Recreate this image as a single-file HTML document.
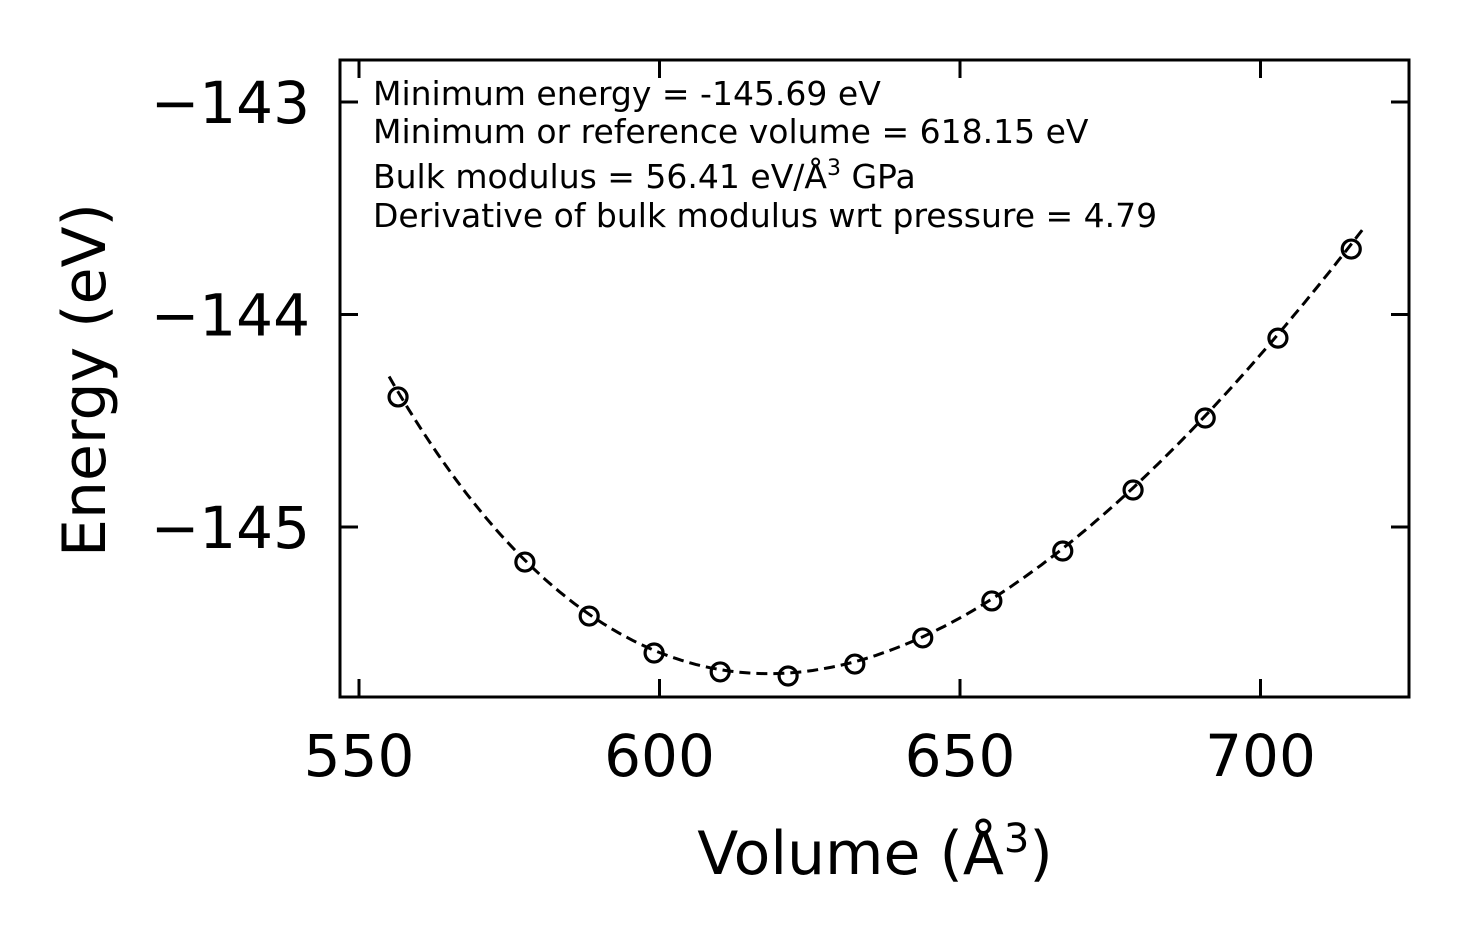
<!DOCTYPE html>
<html><head><meta charset="utf-8"><style>
html,body{margin:0;padding:0;background:#fff;}
svg{display:block;font-family:"DejaVu Sans","Liberation Sans",sans-serif;}
</style></head><body>
<svg id="chart" width="1469" height="943" viewBox="0 0 1469 943">
<g id="plot"></g>
</svg>
<script>
const volumes = [556.5, 577.6, 588.3, 599.1, 610.1, 621.4, 632.5, 643.8, 655.3, 667.1, 678.8, 690.8, 702.9, 715.1];
const energies = [-144.388, -145.165, -145.419, -145.593, -145.682, -145.701, -145.645, -145.522, -145.348, -145.113, -144.826, -144.487, -144.111, -143.692];
const xTicks = [550, 600, 650, 700];
const yTicks = [-143, -144, -145];
const fitParams = [-145.69, 618.15, 56.41, 4.79]; // E0, V0, B (GPa), B'
const fitRange = [555, 717];

const L=340,R=1409,T=60,B=697;
const xs=v=>359+(v-550)*300.5/50;
const ys=e=>102+(-143-e)*212.5;
const NS="http://www.w3.org/2000/svg";
const g=document.getElementById('plot');
function mk(tag,attrs,parent){const el=document.createElementNS(NS,tag);for(const k in attrs)el.setAttribute(k,attrs[k]);(parent||g).appendChild(el);return el;}

const [E0,V0,Bg,Bp]=fitParams;const Bv=Bg/160.2177;
let d="";
for(let i=0;i<=200;i++){const v=fitRange[0]+(fitRange[1]-fitRange[0])*i/200;const eta=Math.pow(V0/v,2/3);
const e=E0+9*V0*Bv/16*(Math.pow(eta-1,3)*Bp+Math.pow(eta-1,2)*(6-4*eta));
d+=(i?"L":"M")+xs(v).toFixed(1)+","+ys(e).toFixed(1);}
const fit=mk('path',{d:d,fill:'none',stroke:'#000','stroke-width':3,'stroke-dasharray':'11,6'});



volumes.forEach((v,i)=>{
const c=mk('circle',{cx:xs(v),cy:ys(energies[i]),r:9,fill:'none',stroke:'#000','stroke-width':3.2});


});

const frame=mk('rect',{x:L,y:T,width:R-L,height:B-T,fill:'none',stroke:'#000','stroke-width':3});



xTicks.forEach(t=>{const x=xs(t);
mk('line',{x1:x,x2:x,y1:B,y2:B-18,stroke:'#000','stroke-width':3});
mk('line',{x1:x,x2:x,y1:T,y2:T+18,stroke:'#000','stroke-width':3});
const tx=mk('text',{x:x,y:776,'font-size':58,'text-anchor':'middle'});tx.textContent=t;


});
yTicks.forEach(t=>{const y=ys(t);
mk('line',{x1:L,x2:L+18,y1:y,y2:y,stroke:'#000','stroke-width':3});
mk('line',{x1:R,x2:R-18,y1:y,y2:y,stroke:'#000','stroke-width':3});
const tx=mk('text',{x:310,y:y+21,'font-size':58,'text-anchor':'end'});tx.textContent='\u2212'+Math.abs(t);


});
</script>
<svg style="position:absolute;left:0;top:0" width="1469" height="943">
<g font-family="DejaVu Sans, Liberation Sans, sans-serif" font-size="33" fill="#000">
<text x="373" y="105">Minimum energy = -145.69 eV</text>
<text x="373" y="143">Minimum or reference volume = 618.15 eV</text>
<text x="373" y="188">Bulk modulus = 56.41 eV/Å<tspan font-size="22" dy="-13">3</tspan><tspan dy="13"> GPa</tspan></text>
<text x="373" y="227">Derivative of bulk modulus wrt pressure = 4.79</text>
</g>
<text x="875" y="874" font-family="DejaVu Sans, Liberation Sans, sans-serif" font-size="60" text-anchor="middle">Volume (Å<tspan font-size="40" dy="-22">3</tspan><tspan dy="22">)</tspan></text>
<text transform="translate(105,380) rotate(-90)" font-family="DejaVu Sans, Liberation Sans, sans-serif" font-size="60" text-anchor="middle">Energy (eV)</text>
</svg>
</body></html>
